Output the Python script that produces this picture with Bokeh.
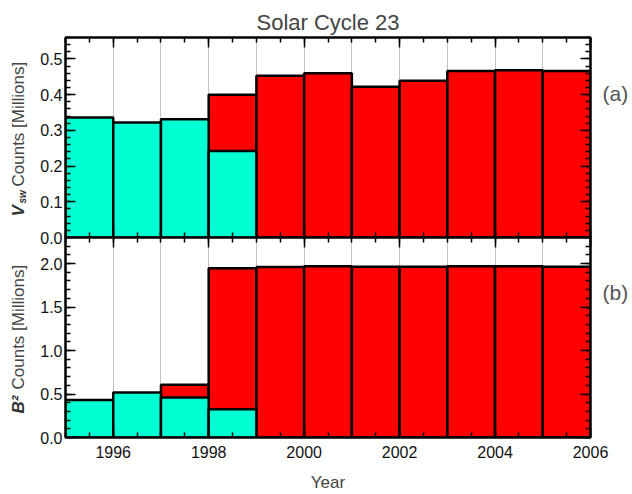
import math
from bokeh.plotting import figure
from bokeh.models import (Range1d, LinearAxis, SingleIntervalTicker, Label,
                          NumeralTickFormatter, CustomJSTickFormatter, Title)
from bokeh.layouts import column, row
from bokeh.embed import file_html
from bokeh.resources import INLINE

# ---------------- data ----------------
vsw_cyan_years = [1995, 1996, 1997, 1998]
vsw_cyan = [0.336, 0.322, 0.331, 0.242]
vsw_red_years = [1998, 1999, 2000, 2001, 2002, 2003, 2004, 2005]
vsw_red = [0.400, 0.453, 0.460, 0.422, 0.439, 0.466, 0.468, 0.466]

b2_cyan_years = [1995, 1996, 1997, 1998]
b2_cyan = [0.43, 0.517, 0.46, 0.326]
b2_red_years = [1997, 1998, 1999, 2000, 2001, 2002, 2003, 2004, 2005]
b2_red = [0.606, 1.947, 1.962, 1.968, 1.965, 1.965, 1.968, 1.970, 1.965]

title_text = "Solar Cycle 23"
panel_tags = ["(a)", "(b)"]

CYAN = "#00FFD2"
RED = "#FF0000"
FONT = "Liberation Sans"
H = 494
LSTRIP = 32            # left strip holding the rotated y-axis titles
RSTRIP = 42            # right strip holding the panel tags
ROVER = 22             # main plots extend under the right strip (room for "2006")
MAIN_W = 632 - LSTRIP - RSTRIP + ROVER
LEFT = 65 - LSTRIP
OVER = 10              # p1 extends below its frame so its "0.0" label is not cut

x_range = Range1d(1995, 2006)
blank = CustomJSTickFormatter(code="return ''")


def tick_style(ax):
    ax.axis_line_width = 2
    ax.major_tick_out = 0
    ax.minor_tick_out = 0
    ax.major_tick_in = 10
    ax.minor_tick_in = 5
    ax.major_tick_line_width = 1.5
    ax.minor_tick_line_width = 1.5


def style(p, yint, ynminor, show_x_labels):
    p.outline_line_color = "black"
    p.outline_line_width = 2
    p.ygrid.visible = False
    p.xgrid.ticker = SingleIntervalTicker(interval=1, num_minor_ticks=0)
    p.xgrid.grid_line_color = "#c4c4c4"
    p.xgrid.grid_line_width = 1
    p.xaxis.ticker = SingleIntervalTicker(interval=2, num_minor_ticks=4)
    p.yaxis.ticker = SingleIntervalTicker(interval=yint, num_minor_ticks=ynminor)
    p.yaxis.formatter = NumeralTickFormatter(format="0.0")
    for ax in [p.xaxis[0], p.yaxis[0]]:
        tick_style(ax)
        ax.major_label_text_font = FONT
        ax.major_label_text_font_size = "16px"
        ax.major_label_text_color = "#111111"
    p.yaxis.major_label_standoff = 3
    if show_x_labels:
        p.xaxis.major_label_standoff = 8
        p.xaxis.axis_label = "Year"
        p.xaxis.axis_label_text_font = FONT
        p.xaxis.axis_label_text_font_size = "17px"
        p.xaxis.axis_label_text_font_style = "normal"
        p.xaxis.axis_label_text_color = "#444444"
        p.xaxis.axis_label_standoff = 12
    else:
        p.xaxis.formatter = blank
        p.xaxis.major_label_standoff = 0
    top = LinearAxis(ticker=SingleIntervalTicker(interval=2, num_minor_ticks=4),
                     formatter=blank, major_label_standoff=0)
    right = LinearAxis(ticker=SingleIntervalTicker(interval=yint, num_minor_ticks=ynminor),
                       formatter=blank, major_label_standoff=0)
    tick_style(top)
    tick_style(right)
    p.add_layout(top, "above")
    p.add_layout(right, "right")


def bars(p, years, vals, color):
    p.quad(left=years, right=[y + 1 for y in years], bottom=0, top=vals,
           fill_color=color, line_color="black", line_width=2.5)


def strip(width, margin=(0, 0, 0, 0)):
    s = figure(width=width, height=H, x_range=Range1d(0, width), y_range=Range1d(0, H),
               output_backend="svg", toolbar_location=None,
               x_axis_location=None, y_axis_location=None, margin=margin,
               min_border_left=0, min_border_right=0, min_border_top=0, min_border_bottom=0)
    s.outline_line_color = None
    s.xgrid.visible = False
    s.ygrid.visible = False
    s.background_fill_color = None
    s.border_fill_color = None
    return s


def lab(p, x, y, text, size, style_="normal", color="#444444", angle=0.0):
    p.add_layout(Label(x=x, y=y, text=text, angle=angle, text_align="left",
                       text_baseline="middle", text_font=FONT, text_font_size=size,
                       text_font_style=style_, text_color=color))


# ---------------- panel (a) ----------------
p1 = figure(width=MAIN_W, height=37 + 200 + OVER, x_range=x_range, y_range=Range1d(0, 0.56),
            output_backend="svg", toolbar_location=None,
            min_border_left=LEFT, min_border_right=ROVER,
            min_border_top=37, min_border_bottom=OVER)
p1.title = Title(text=title_text, align="center", text_font=FONT,
                 text_font_size="22px", text_font_style="normal",
                 text_color="#444444", standoff=5)
style(p1, 0.1, 5, False)
bars(p1, vsw_red_years, vsw_red, RED)
bars(p1, vsw_cyan_years, vsw_cyan, CYAN)

# ---------------- panel (b) ----------------
p2 = figure(width=MAIN_W, height=200 + 57, x_range=x_range, y_range=Range1d(0, 2.3),
            output_backend="svg", toolbar_location=None,
            min_border_left=LEFT, min_border_right=ROVER,
            min_border_top=0, min_border_bottom=57, margin=(-OVER, 0, 0, 0))
p2.border_fill_alpha = 0
style(p2, 0.5, 5, True)
bars(p2, b2_red_years, b2_red, RED)
bars(p2, b2_cyan_years, b2_cyan, CYAN)

# ---------------- text strips (pixel coordinates, y up) ----------------
ls = strip(LSTRIP)
lab(ls, 18, H - 216, "V", "17px", "bold italic", "#333333", math.pi / 2)
lab(ls, 22, H - 203, "sw", "10px", "bold italic", "#333333", math.pi / 2)
lab(ls, 18, H - 186, "Counts [Millions]", "17px", angle=math.pi / 2)
lab(ls, 18, H - 413, "B²", "17px", "bold italic", "#333333", math.pi / 2)
lab(ls, 18, H - 389, "Counts [Millions]", "17px", angle=math.pi / 2)

rs = strip(RSTRIP, margin=(0, 0, 0, -ROVER))
lab(rs, 12, H - 93, panel_tags[0], "21px", color="#555555")
lab(rs, 12, H - 292, panel_tags[1], "21px", color="#555555")

layout = row(ls, column(p1, p2, spacing=0), rs, spacing=0)
open("out.html", "w").write(file_html(layout, INLINE))
